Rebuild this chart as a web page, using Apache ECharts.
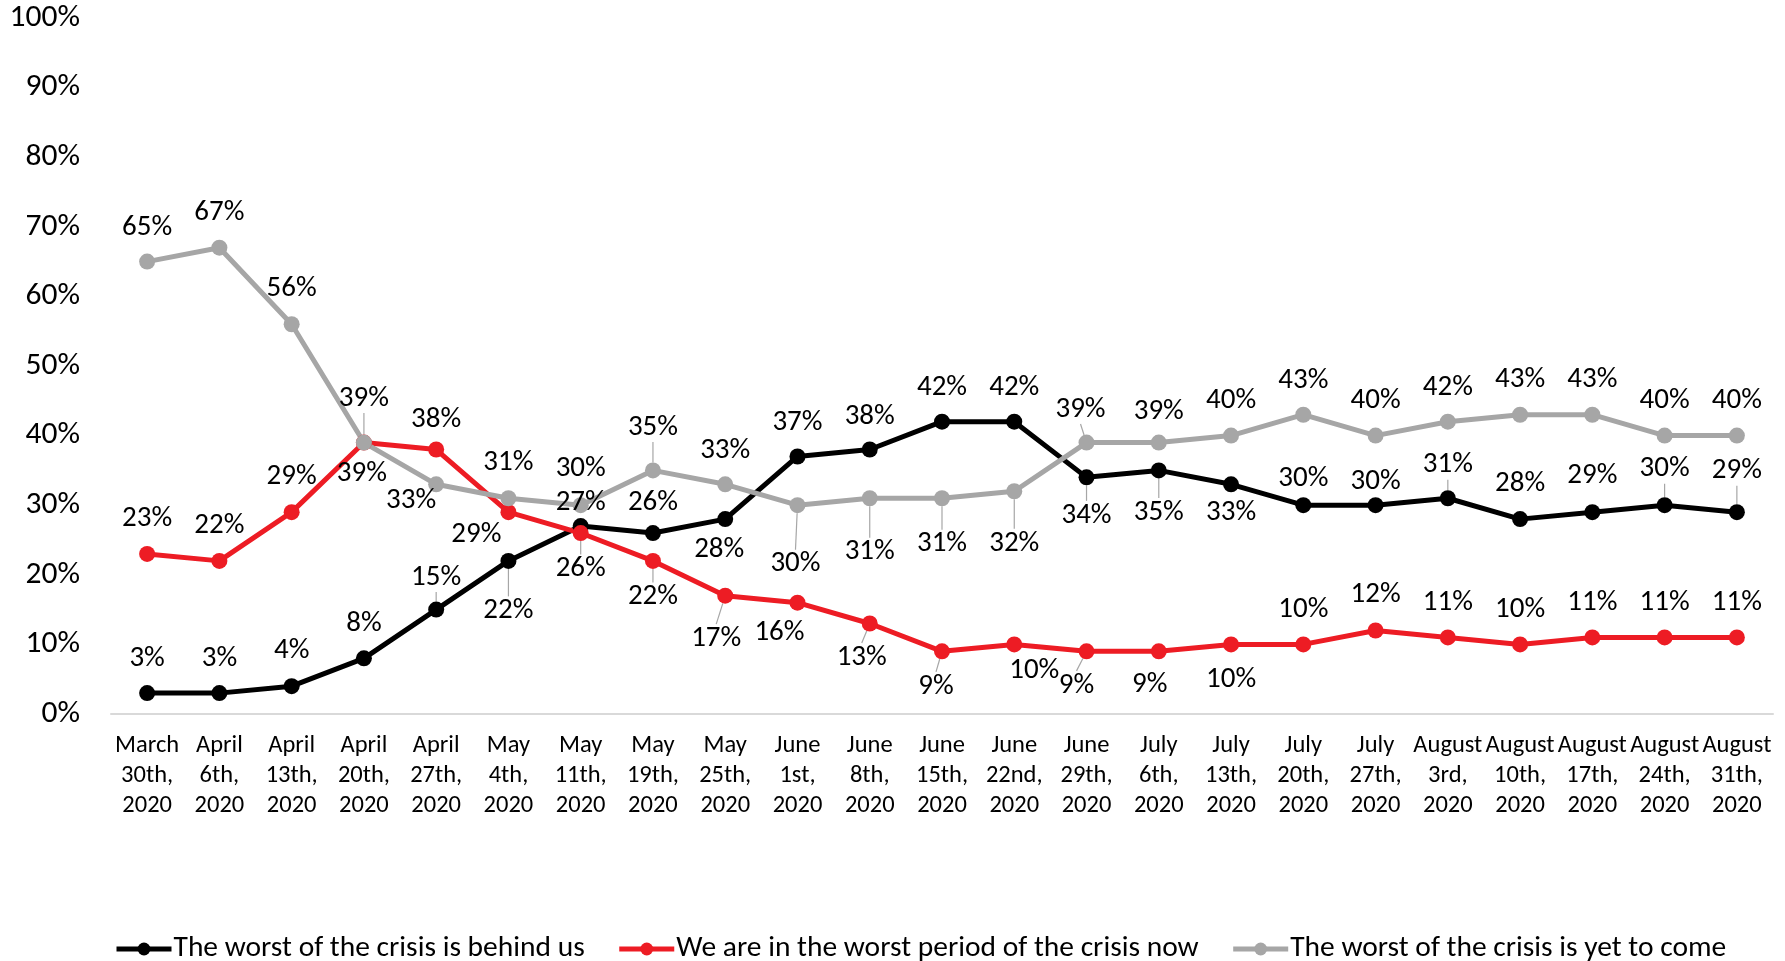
<!DOCTYPE html>
<html>
<head>
<meta charset="utf-8">
<script src="https://cdn.jsdelivr.net/npm/echarts@6/dist/echarts.min.js"></script>
<style>
  html, body { margin: 0; padding: 0; background: #fff; }
  #chart { width: 1785px; height: 961px; }
</style>
</head>
<body>
<div id="chart"></div>
<script>
// survey weeks
const categories = [
  'March 30th, 2020', 'April 6th, 2020', 'April 13th, 2020', 'April 20th, 2020',
  'April 27th, 2020', 'May 4th, 2020', 'May 11th, 2020', 'May 19th, 2020',
  'May 25th, 2020', 'June 1st, 2020', 'June 8th, 2020', 'June 15th, 2020',
  'June 22nd, 2020', 'June 29th, 2020', 'July 6th, 2020', 'July 13th, 2020',
  'July 20th, 2020', 'July 27th, 2020', 'August 3rd, 2020', 'August 10th, 2020',
  'August 17th, 2020', 'August 24th, 2020', 'August 31th, 2020'
]

const seriesNames = [
  'The worst of the crisis is behind us',
  'We are in the worst period of the crisis now',
  'The worst of the crisis is yet to come'
]

// values in %
const behindUs = [3, 3, 4, 8, 15, 22, 27, 26, 28, 37, 38, 42, 42, 34, 35, 33, 30, 30, 31, 28, 29, 30, 29]
const worstNow = [23, 22, 29, 39, 38, 29, 26, 22, 17, 16, 13, 9, 10, 9, 9, 10, 10, 12, 11, 10, 11, 11, 11]
const yetToCome = [65, 67, 56, 39, 33, 31, 30, 35, 33, 30, 31, 31, 32, 39, 39, 40, 43, 40, 42, 43, 43, 40, 40]

const yTicks = [0, 10, 20, 30, 40, 50, 60, 70, 80, 90, 100]

// label placement (px offsets from the point), like the excel layout
const labelDy = [
  [-34, -34, -35, -35, -32, 50, -23, -30, 31, -34, -33, -34, -34, 38, 42, 28, -26, -23, -33, -35, -36, -36, -41],
  [-35, -35, -35, 31, -30, 23, 36, 36, 43, 30, 34, 35, 26, 34, 33, 35, -35, -36, -35, -35, -35, -35, -35],
  [-34, -35, -35, -44, 16, -35, -36, -43, -34, 59, 54, 46, 52, -33, -31, -35, -34, -35, -34, -35, -35, -35, -35]
]
const labelDx = [
  { 8: -6 },
  { 3: -2, 5: -32, 8: -9, 9: -18, 10: -8, 11: -6, 12: 20, 13: -10, 14: -9 },
  { 4: -25, 9: -2, 13: -6 }
]
const leaders = [
  [4, 5, 13, 14, 18, 21, 22],
  [6, 7, 8, 10, 11, 13],
  [3, 7, 9, 10, 11, 12, 13]
]

const colors = ['#000000', '#ED1C24', '#A6A6A6']
const font = 'Carlito, Lato, "Noto Sans", sans-serif'

const chart = echarts.init(document.getElementById('chart'))

function makeSeries(idx, values) {
  return {
    name: seriesNames[idx],
    type: 'line',
    data: values.map((v, i) => ({
      value: v,
      labelLine: { show: leaders[idx].indexOf(i) >= 0 }
    })),
    symbol: 'circle',
    symbolSize: 16,
    lineStyle: { width: 5, color: colors[idx] },
    itemStyle: { color: colors[idx] },
    label: {
      show: true,
      position: 'inside',
      formatter: '{c}%',
      color: '#000',
      fontSize: 29,
      fontFamily: font
    },
    labelLine: {
      lineStyle: { color: '#A6A6A6', width: 1.2 },
      length2: 0
    },
    labelLayout(params) {
      const i = params.dataIndex
      return {
        dx: labelDx[idx][i] || 0,
        dy: labelDy[idx][i]
      }
    },
    emphasis: { disabled: true },
    animation: false
  }
}

chart.setOption({
  backgroundColor: '#fff',
  textStyle: { fontFamily: font },
  grid: {
    left: 111,
    right: 12,
    top: 18,
    bottom: 247
  },
  legend: {
    bottom: -8,
    left: 109,
    itemWidth: 55,
    itemHeight: 16,
    itemGap: 32,
    lineStyle: { width: 5 },
    textStyle: {
      color: '#000',
      fontSize: 29.5,
      fontFamily: font,
      padding: [0, 0, 0, -3]
    },
    data: seriesNames
  },
  xAxis: {
    type: 'category',
    data: categories,
    boundaryGap: true,
    axisLine: { lineStyle: { color: '#D9D9D9', width: 2 } },
    axisTick: { show: false },
    axisLabel: {
      interval: 0,
      color: '#000',
      fontSize: 24.5,
      lineHeight: 30,
      margin: 17,
      fontFamily: font,
      formatter(val) {
        const parts = val.split(' ')
        return parts[0] + '\n' + parts[1] + '\n' + parts[2]
      }
    }
  },
  yAxis: {
    type: 'value',
    min: yTicks[0],
    max: yTicks[yTicks.length - 1],
    interval: 10,
    axisLine: { show: false },
    axisTick: { show: false },
    splitLine: { show: false },
    axisLabel: {
      color: '#000',
      fontSize: 31.5,
      margin: 31,
      fontFamily: font,
      formatter: '{value}%'
    }
  },
  series: [
    makeSeries(0, behindUs),
    makeSeries(1, worstNow),
    makeSeries(2, yetToCome)
  ]
})
</script>
</body>
</html>
